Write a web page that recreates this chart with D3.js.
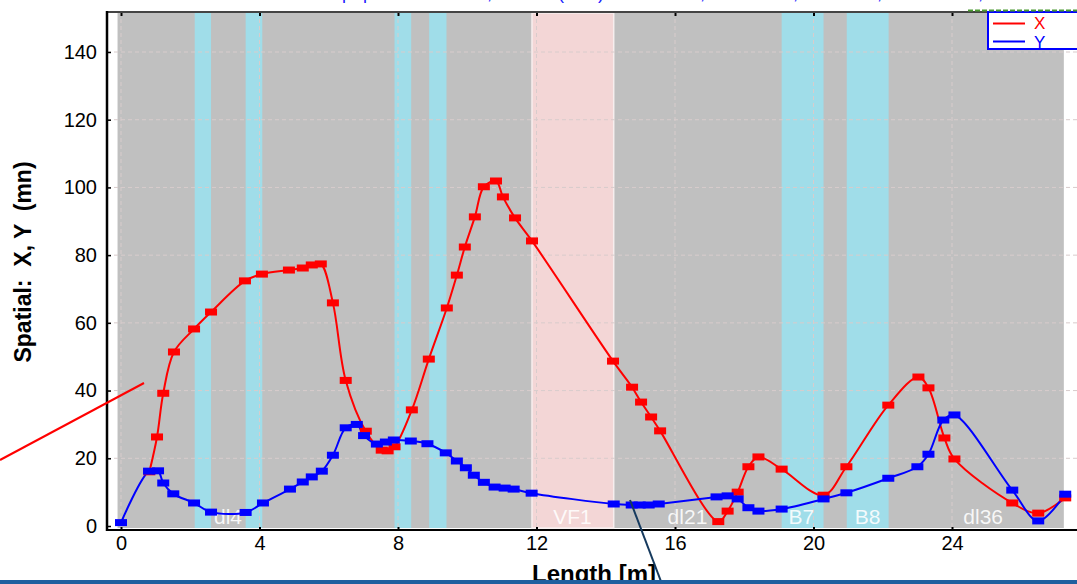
<!DOCTYPE html>
<html lang="en">
  <head>
    <meta charset="UTF-8" />
    <title>Spatial X, Y</title>
    <script src="https://d3js.org/d3.v7.min.js"></script>
    <style>
      body {
        margin: 0;
        background: #fff;
      }
      svg {
        display: block;
        font-family: "Liberation Sans", Arial, sans-serif;
      }
      .grid line {
        stroke: #d8cccc;
        stroke-dasharray: 4, 3;
        stroke-width: 1;
      }
      .blabel {
        font-size: 21px;
        fill: #fff;
        fill-opacity: 0.88;
        text-anchor: middle;
      }
    </style>
  </head>
  <body>
    <svg width="1077" height="584"></svg>

    <script>
      // ---- data ----
      var xTicks = [0, 4, 8, 12, 16, 20, 24];
      var yTicks = [0, 20, 40, 60, 80, 100, 120, 140];

      // beamline extent [m]
      var beamline = [-0.1, 27.23];
      // bending magnets (cyan) and cavity (pink)
      var bends = [
        [2.13, 2.6],
        [3.6, 4.08],
        [7.9, 8.38],
        [8.9, 9.4],
        [19.08, 20.29],
        [20.96, 22.17],
      ];
      var cavity = [[11.87, 14.23]];
      var elemNames = ["dl4", "VF1", "dl21", "B7", "B8", "dl36"];
      var elemPos = [3.09, 13.04, 16.36, 19.65, 21.56, 24.9];

      // X series
      var sX = [0.82, 1.04, 1.22, 1.53, 2.11, 2.6, 3.58, 4.07, 4.85, 5.25, 5.51, 5.77, 6.12, 6.49, 7.07, 7.53, 7.7, 7.9, 8.4, 8.89, 9.41, 9.7, 9.93, 10.22, 10.48, 10.83, 11.03, 11.38, 11.87, 14.21, 14.76, 15.02, 15.31, 15.57, 17.25, 17.52, 17.81, 18.12, 18.41, 19.08, 20.29, 20.95, 22.16, 23.03, 23.32, 23.78, 24.07, 25.74, 26.49, 27.27];
      var valX = [16, 26.3, 39.2, 51.4, 58.2, 63.2, 72.4, 74.4, 75.6, 76.2, 77.1, 77.4, 65.9, 43, 28, 22.4, 22.2, 23.4, 34.3, 49.3, 64.4, 74.1, 82.4, 91.3, 100.2, 101.9, 97.2, 91, 84.2, 48.7, 41, 36.6, 32.2, 28.1, 1.3, 4.4, 10, 17.5, 20.4, 16.8, 9.1, 17.5, 35.7, 44, 40.8, 26, 19.8, 6.8, 3.8, 8.3];

      // Y series
      var sY = [0, 0.81, 1.07, 1.22, 1.51, 2.11, 2.6, 3.6, 4.1, 4.88, 5.25, 5.51, 5.8, 6.12, 6.49, 6.81, 7.02, 7.39, 7.65, 7.88, 8.37, 8.85, 9.38, 9.7, 9.96, 10.19, 10.48, 10.79, 11.08, 11.34, 11.86, 14.23, 14.75, 14.98, 15.24, 15.53, 17.2, 17.52, 17.81, 18.12, 18.41, 19.08, 20.29, 20.95, 22.16, 23.0, 23.32, 23.75, 24.07, 25.74, 26.49, 27.27];
      var valY = [1, 16.2, 16.3, 12.7, 9.5, 6.8, 4.1, 4, 6.8, 10.9, 13, 14.5, 16.2, 20.9, 29, 30, 26.7, 24.2, 24.8, 25.4, 25.1, 24.3, 21.6, 19.2, 17.2, 15, 12.9, 11.5, 11.2, 10.9, 9.7, 6.5, 6.2, 6.2, 6.2, 6.5, 8.6, 8.9, 8, 5.4, 4.4, 5, 8, 9.8, 14.1, 17.5, 21.2, 31.3, 32.8, 10.6, 1.5, 9.4];

      var series = [
        { name: "X", color: "#ff0000", s: sX, v: valX },
        { name: "Y", color: "#0000ff", s: sY, v: valY },
      ];

      // ---- layout ----
      var svg = d3.select("svg"),
        width = +svg.attr("width");
      var padL = 107,
        padT = 12,
        padB = 530;

      var x = d3.scaleLinear().domain([0, 24]).range([121, 952]);
      var y = d3.scaleLinear().domain([0, 140]).range([526, 52]);

      svg
        .append("defs")
        .append("clipPath")
        .attr("id", "plot")
        .append("rect")
        .attr("x", padL)
        .attr("y", padT)
        .attr("width", width - padL)
        .attr("height", padB - padT);

      var plot = svg.append("g").attr("clip-path", "url(#plot)");

      // beamline background
      plot
        .append("rect")
        .attr("x", x(beamline[0]))
        .attr("y", padT + 1)
        .attr("width", x(beamline[1]) - x(beamline[0]))
        .attr("height", padB - padT - 3)
        .attr("fill", "#c0c0c0");

      plot
        .selectAll(".bend")
        .data(bends)
        .enter()
        .append("rect")
        .attr("class", "bend")
        .attr("x", (d) => x(d[0]))
        .attr("y", padT + 1)
        .attr("width", (d) => x(d[1]) - x(d[0]))
        .attr("height", padB - padT - 3)
        .attr("fill", "#a0dde9");

      plot
        .selectAll(".cav")
        .data(cavity)
        .enter()
        .append("rect")
        .attr("class", "cav")
        .attr("x", (d) => x(d[0]))
        .attr("y", padT + 1)
        .attr("width", (d) => x(d[1]) - x(d[0]))
        .attr("height", padB - padT - 3)
        .attr("fill", "#f3d6d6")
        .attr("stroke", "#f7eeee")
        .attr("stroke-width", 1.5);

      // grid
      var grid = plot.append("g").attr("class", "grid");
      grid
        .selectAll(".gy")
        .data(yTicks.slice(1))
        .enter()
        .append("line")
        .attr("x1", padL)
        .attr("x2", width)
        .attr("y1", (d) => y(d))
        .attr("y2", (d) => y(d));
      grid
        .selectAll(".gx")
        .data(xTicks)
        .enter()
        .append("line")
        .attr("x1", (d) => x(d))
        .attr("x2", (d) => x(d))
        .attr("y1", padT)
        .attr("y2", padB);

      // element names
      plot
        .selectAll(".blabel")
        .data(elemNames)
        .enter()
        .append("text")
        .attr("class", "blabel")
        .attr("x", (d, i) => x(elemPos[i]))
        .attr("y", 524)
        .text((d) => d);

      // lines then markers
      var line = d3
        .line()
        .curve(d3.curveCatmullRom.alpha(0.5))
        .x((d) => x(d[0]))
        .y((d) => y(d[1]));

      series.forEach(function (sr) {
        var pts = sr.s.map((s, i) => [s, sr.v[i]]);
        plot
          .append("path")
          .datum(pts)
          .attr("fill", "none")
          .attr("stroke", sr.color)
          .attr("stroke-width", 2)
          .attr("d", line);
      });

      series.forEach(function (sr) {
        var pts = sr.s.map((s, i) => [s, sr.v[i]]);
        plot
          .selectAll(".m" + sr.name)
          .data(pts)
          .enter()
          .append("rect")
          .attr("x", (d) => x(d[0]) - 6)
          .attr("y", (d) => y(d[1]) - 3.5)
          .attr("width", 12)
          .attr("height", 7)
          .attr("fill", sr.color);
      });

      // axes
      var xAxis = svg
        .append("g")
        .attr("transform", "translate(0," + padB + ")")
        .call(d3.axisBottom(x).tickValues(xTicks).tickSize(-3).tickPadding(6).tickFormat(d3.format("d")));
      xAxis.select(".domain").remove();
      xAxis.selectAll(".tick line").attr("stroke", "#000").attr("stroke-width", 2);
      xAxis.selectAll(".tick text").attr("dy", "0.71em").style("font-size", "20px").attr("fill", "#000");

      var topTicks = svg
        .append("g")
        .attr("transform", "translate(0," + (padT + 1) + ")")
        .call(d3.axisTop(x).tickValues(xTicks).tickSize(-3).tickFormat(""));
      topTicks.select(".domain").remove();
      topTicks.selectAll(".tick line").attr("stroke", "#000").attr("stroke-width", 2);

      var yAxis = svg
        .append("g")
        .attr("transform", "translate(" + padL + ",0)")
        .call(d3.axisLeft(y).tickValues(yTicks).tickSize(-4).tickPadding(10));
      yAxis.select(".domain").remove();
      yAxis.selectAll(".tick line").attr("stroke", "#000").attr("stroke-width", 1.5);
      yAxis.selectAll(".tick text").style("font-size", "20px").attr("fill", "#000");

      // frame lines
      svg
        .append("line")
        .attr("x1", padL)
        .attr("x2", width)
        .attr("y1", padT)
        .attr("y2", padT)
        .attr("stroke", "#444")
        .attr("stroke-width", 2);
      svg
        .append("line")
        .attr("x1", padL - 1)
        .attr("x2", width)
        .attr("y1", padB)
        .attr("y2", padB)
        .attr("stroke", "#000")
        .attr("stroke-width", 2);
      svg
        .append("line")
        .attr("x1", padL)
        .attr("x2", padL)
        .attr("y1", padT - 1)
        .attr("y2", padB + 1)
        .attr("stroke", "#000")
        .attr("stroke-width", 2.5);

      // axis titles
      svg
        .append("text")
        .attr("transform", "translate(31,262) rotate(-90)")
        .attr("text-anchor", "middle")
        .style("white-space", "pre")
        .style("font-size", "23px")
        .style("font-weight", "bold")
        .text("Spatial:  X, Y  (mn)");

      svg
        .append("text")
        .attr("x", 594)
        .attr("y", 582)
        .attr("text-anchor", "middle")
        .style("font-size", "24px")
        .style("font-weight", "bold")
        .text("Length [m]");

      // legend
      var leg = svg.append("g");
      leg
        .append("rect")
        .attr("x", 988)
        .attr("y", 12)
        .attr("width", 110)
        .attr("height", 37)
        .attr("fill", "#fff")
        .attr("stroke", "#0000ff")
        .attr("stroke-width", 2);
      series.forEach(function (sr, i) {
        leg
          .append("line")
          .attr("x1", 993)
          .attr("x2", 1025)
          .attr("y1", 23.5 + i * 18)
          .attr("y2", 23.5 + i * 18)
          .attr("stroke", sr.color)
          .attr("stroke-width", 2);
        leg
          .append("text")
          .attr("x", 1034)
          .attr("y", 29 + i * 18.5)
          .attr("fill", sr.color)
          .style("font-size", "17px")
          .text(sr.name);
      });

      // bits of the screen around the chart (cut-off title, marks)
      svg
        .append("text")
        .attr("x", "342 363 487 558 598 700 793 877 978")
        .attr("y", -1)
        .attr("fill", "#2020ff")
        .style("font-size", "18px")
        .text("pp,(),,,,");
      svg
        .append("line")
        .attr("x1", 968)
        .attr("x2", width)
        .attr("y1", 10.5)
        .attr("y2", 10.5)
        .attr("stroke", "#4a9a30")
        .attr("stroke-width", 2)
        .attr("stroke-dasharray", "5,2");
      svg
        .append("line")
        .attr("x1", 0)
        .attr("y1", 460)
        .attr("x2", 144)
        .attr("y2", 383)
        .attr("stroke", "#ff0000")
        .attr("stroke-width", 2);
      svg
        .append("line")
        .attr("x1", 630)
        .attr("y1", 500)
        .attr("x2", 662)
        .attr("y2", 584)
        .attr("stroke", "#163a5e")
        .attr("stroke-width", 2);
      svg
        .append("rect")
        .attr("x", 0)
        .attr("y", 580)
        .attr("width", width)
        .attr("height", 4)
        .attr("fill", "#1f5f9f");
    </script>
  </body>
</html>
